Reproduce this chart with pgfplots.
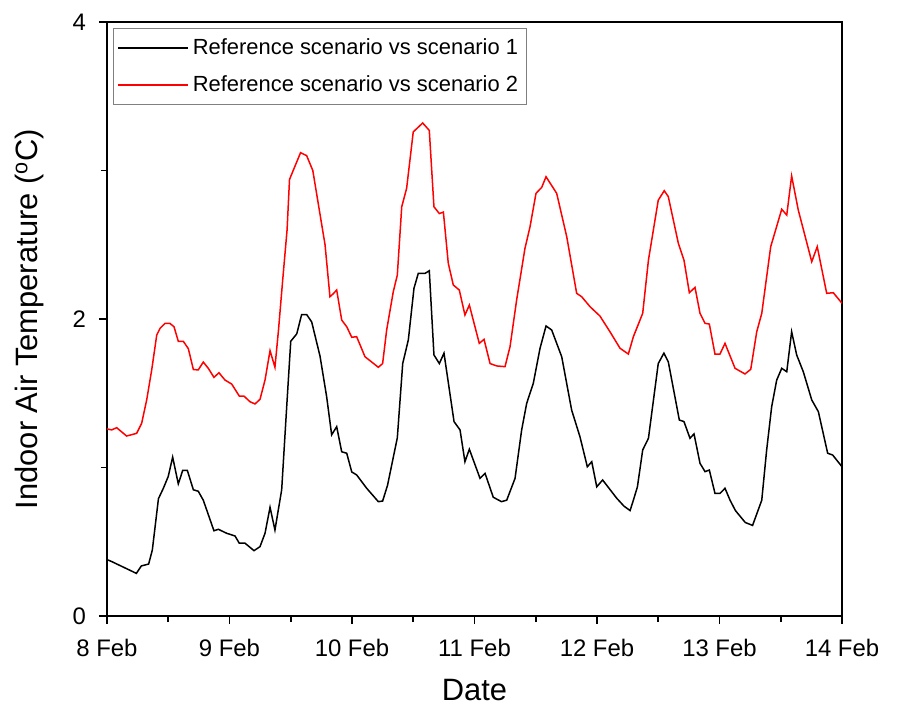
\documentclass[border=0pt]{standalone}
\usepackage{pgfplots}
\pgfplotsset{compat=1.18}
\usepackage{fontspec}
\setmainfont{Liberation Sans}

\pgfplotstableread{
d v
0.00 0.38
0.04 0.366
0.24 0.287
0.28 0.337
0.34 0.35
0.37 0.444
0.42 0.79
0.46 0.86
0.50 0.94
0.536 1.07
0.582 0.89
0.618 0.98
0.656 0.98
0.705 0.85
0.745 0.84
0.786 0.78
0.873 0.574
0.909 0.584
0.977 0.557
1.045 0.539
1.08 0.49
1.127 0.49
1.2 0.44
1.249 0.467
1.29 0.557
1.331 0.732
1.371 0.579
1.426 0.85
1.467 1.41
1.5 1.85
1.549 1.90
1.589 2.03
1.63 2.03
1.671 1.98
1.739 1.75
1.793 1.477
1.834 1.22
1.875 1.275
1.916 1.106
1.957 1.096
1.998 0.97
2.038 0.95
2.12 0.86
2.215 0.77
2.25 0.774
2.29 0.88
2.37 1.2
2.414 1.70
2.46 1.86
2.506 2.207
2.541 2.307
2.596 2.307
2.631 2.325
2.669 1.758
2.713 1.70
2.751 1.77
2.833 1.309
2.882 1.253
2.922 1.039
2.958 1.123
3.045 0.927
3.086 0.961
3.153 0.80
3.22 0.77
3.263 0.78
3.331 0.927
3.385 1.253
3.426 1.432
3.48 1.567
3.535 1.803
3.584 1.953
3.63 1.926
3.712 1.746
3.793 1.387
3.861 1.207
3.921 1.005
3.957 1.039
3.998 0.87
4.046 0.916
4.161 0.793
4.22 0.74
4.27 0.71
4.297 0.78
4.33 0.87
4.373 1.118
4.42 1.197
4.50 1.70
4.546 1.77
4.582 1.712
4.672 1.32
4.71 1.309
4.759 1.197
4.792 1.226
4.841 1.028
4.882 0.972
4.917 0.983
4.963 0.826
5.004 0.826
5.045 0.86
5.086 0.78
5.13 0.71
5.21 0.63
5.27 0.61
5.345 0.78
5.385 1.118
5.426 1.41
5.467 1.589
5.508 1.668
5.549 1.645
5.589 1.914
5.63 1.758
5.684 1.645
5.753 1.455
5.807 1.376
5.883 1.096
5.924 1.084
6.0 1.005
}\scenone

\pgfplotstableread{
d v
0.00 1.26
0.038 1.253
0.079 1.268
0.16 1.212
0.242 1.23
0.283 1.298
0.324 1.455
0.365 1.657
0.406 1.892
0.433 1.937
0.473 1.97
0.514 1.97
0.547 1.948
0.582 1.85
0.623 1.85
0.664 1.80
0.705 1.66
0.745 1.657
0.786 1.71
0.827 1.668
0.873 1.607
0.914 1.638
0.963 1.589
1.018 1.562
1.08 1.481
1.118 1.481
1.167 1.443
1.208 1.428
1.249 1.459
1.29 1.589
1.331 1.787
1.371 1.675
1.40 1.926
1.434 2.26
1.47 2.6
1.49 2.94
1.58 3.12
1.63 3.10
1.68 3.0
1.78 2.5
1.82 2.15
1.847 2.17
1.875 2.195
1.916 1.993
1.957 1.948
1.998 1.877
2.038 1.881
2.106 1.746
2.215 1.675
2.25 1.70
2.283 1.926
2.337 2.184
2.37 2.296
2.406 2.756
2.446 2.88
2.50 3.26
2.577 3.32
2.631 3.27
2.669 2.756
2.713 2.71
2.746 2.72
2.786 2.375
2.827 2.229
2.876 2.195
2.922 2.027
2.958 2.094
3.039 1.836
3.078 1.863
3.127 1.70
3.181 1.684
3.249 1.679
3.29 1.813
3.344 2.128
3.412 2.476
3.453 2.62
3.502 2.846
3.549 2.887
3.584 2.958
3.671 2.846
3.753 2.554
3.834 2.173
3.875 2.15
3.943 2.083
4.024 2.02
4.106 1.914
4.188 1.803
4.256 1.764
4.297 1.881
4.373 2.038
4.42 2.397
4.50 2.80
4.549 2.864
4.582 2.824
4.664 2.51
4.71 2.397
4.754 2.177
4.8 2.213
4.841 2.038
4.882 1.971
4.917 1.966
4.963 1.764
5.004 1.764
5.045 1.836
5.127 1.668
5.208 1.63
5.255 1.661
5.304 1.914
5.345 2.038
5.418 2.487
5.508 2.739
5.549 2.70
5.589 2.963
5.643 2.734
5.753 2.386
5.798 2.487
5.875 2.173
5.929 2.177
6.0 2.106
}\scentwo

\begin{document}
\begin{tikzpicture}
% fix the page to the reference proportions (1px = 0.5bp)
\useasboundingbox (-53.5bp,-46.5bp) rectangle (395bp,308bp);
\begin{axis}[
    at={(0,0)}, anchor=south west,
    scale only axis,
    width=367.5bp, height=297bp,
    xmin=0, xmax=6, ymin=0, ymax=4,
    xtick={0,1,2,3,4,5,6},
    xticklabels={8 Feb,9 Feb,10 Feb,11 Feb,12 Feb,13 Feb,14 Feb},
    ytick={0,2,4},
    minor x tick num=1, minor y tick num=1,
    tick align=outside,
    xtick pos=bottom, ytick pos=left,
    major tick length=4bp, minor tick length=3bp,
    axis line style={line width=1bp},
    every tick/.style={line width=0.8bp, black},
    tick label style={font=\fontsize{12}{14}\selectfont},
    xticklabel style={yshift=-4bp},
    yticklabel style={xshift=-3bp},
    /pgf/number format/assume math mode=true,
    xlabel={Date},
    ylabel={Indoor Air Temperature (\textsuperscript{o}C)},
    label style={font=\fontsize{15.5}{18}\selectfont},
    xlabel style={at={(axis description cs:0.5,-0.1246)}, anchor=center},
    ylabel style={at={(axis description cs:-0.105,0.5)}, anchor=center},
    legend style={at={(axis description cs:0.008,0.99)}, anchor=north west,
        draw=gray, line width=0.6bp, font=\fontsize{11}{13}\selectfont,
        cells={anchor=west}, row sep=5bp, inner xsep=2bp, inner ysep=3bp},
    legend image code/.code={\draw[#1, line width=0.7bp] (0bp,0bp) -- (35bp,0bp);},
]
\addplot[black, line width=0.75bp] table[x=d, y=v] {\scenone};
\addplot[red, line width=0.75bp] table[x=d, y=v] {\scentwo};
\legend{Reference scenario vs scenario 1, Reference scenario vs scenario 2}
\end{axis}
\end{tikzpicture}
\end{document}
